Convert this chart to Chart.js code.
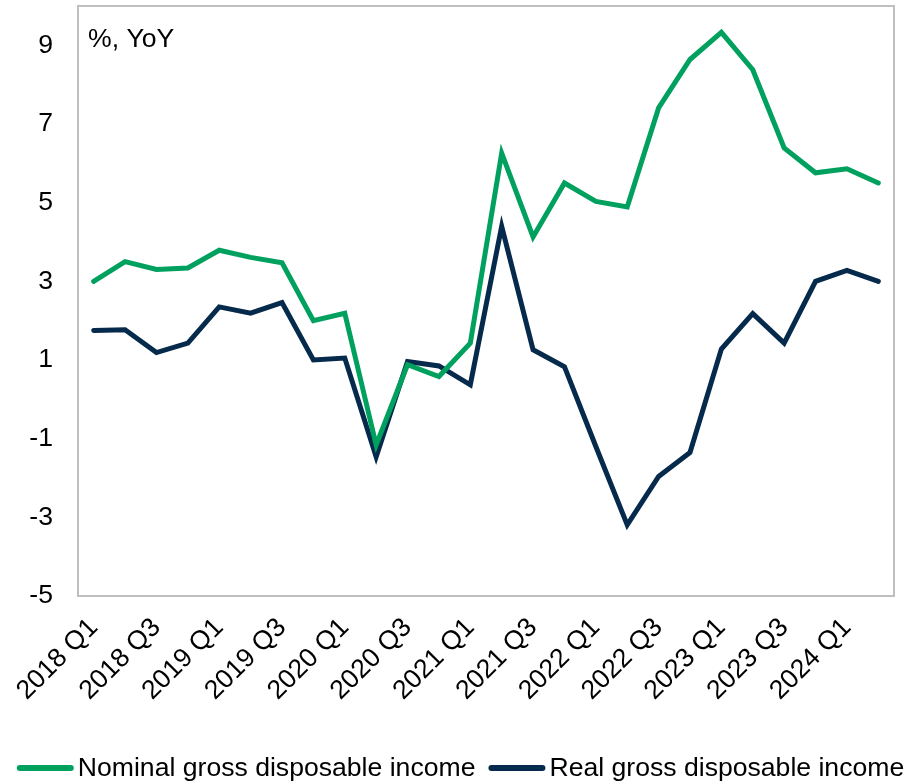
<!DOCTYPE html>
<html>
<head>
<meta charset="utf-8">
<script src="https://cdn.jsdelivr.net/npm/chart.js@4/dist/chart.umd.min.js"></script>
<style>
  html, body { margin: 0; padding: 0; background: #fff; }
  #wrap { width: 922px; height: 784px; }
</style>
</head>
<body>
<div id="wrap"><canvas id="chart"></canvas></div>
<script>
// quarterly YoY growth, %
const quarters = [
  "2018 Q1", "2018 Q2", "2018 Q3", "2018 Q4",
  "2019 Q1", "2019 Q2", "2019 Q3", "2019 Q4",
  "2020 Q1", "2020 Q2", "2020 Q3", "2020 Q4",
  "2021 Q1", "2021 Q2", "2021 Q3", "2021 Q4",
  "2022 Q1", "2022 Q2", "2022 Q3", "2022 Q4",
  "2023 Q1", "2023 Q2", "2023 Q3", "2023 Q4",
  "2024 Q1", "2024 Q2"
];

const nominal = [
  3.0, 3.5, 3.3, 3.34, 3.79, 3.61, 3.47, 2.0,
  2.19, -1.16, 0.88, 0.58, 1.43, 6.26, 4.13, 5.5,
  5.03, 4.89, 7.41, 8.64, 9.33, 8.38, 6.39, 5.76,
  5.86, 5.5
];

const real = [
  1.75, 1.77, 1.19, 1.43, 2.35, 2.19, 2.46, 1.0,
  1.05, -1.46, 0.96, 0.85, 0.37, 4.4, 1.26, 0.83,
  -1.2, -3.19, -1.96, -1.35, 1.28, 2.18, 1.43, 3.0,
  3.28, 3.0
];

const yTicks = [-5, -3, -1, 1, 3, 5, 7, 9];

const FONT = "'Liberation Sans', Arial, sans-serif";
const FSIZE = 26.6;
const GREEN = "#00A05E";
const NAVY = "#062A4C";
const FRAME = "#BFBFBF";

// grey box round the plot area plus the unit note in its corner
const frame = {
  id: "frame",
  afterDraw(chart) {
    const { ctx, chartArea: a } = chart;
    ctx.save();
    ctx.strokeStyle = FRAME;
    ctx.lineWidth = 2;
    ctx.strokeRect(a.left, a.top, a.right - a.left, a.bottom - a.top);
    ctx.fillStyle = "#000";
    ctx.font = FSIZE + "px " + FONT;
    ctx.textBaseline = "alphabetic";
    ctx.fillText("%, YoY", a.left + 10, a.top + 41);
    ctx.restore();
  }
};

// one-row legend under the axis labels, line sample right next to its text
const lineLegend = {
  id: "lineLegend",
  afterDraw(chart) {
    const { ctx } = chart;
    const y = 768, sample = 55, gap = 5, between = 14;
    ctx.save();
    ctx.font = FSIZE + "px " + FONT;
    ctx.textBaseline = "middle";
    const items = chart.data.datasets.map(ds => ({
      text: ds.label,
      color: ds.borderColor,
      w: ctx.measureText(ds.label).width
    }));
    const total = items.reduce((s, it) => s + sample + gap + it.w, 0) + between * (items.length - 1);
    let x = (chart.width - total) / 2;
    items.forEach(it => {
      ctx.strokeStyle = it.color;
      ctx.lineWidth = 6;
      ctx.lineCap = "round";
      ctx.beginPath();
      ctx.moveTo(x + 2, y);
      ctx.lineTo(x + sample - 2, y);
      ctx.stroke();
      ctx.fillStyle = "#000";
      ctx.fillText(it.text, x + sample + gap, y + 1);
      x += sample + gap + it.w + between;
    });
    ctx.restore();
  }
};

new Chart(document.getElementById("chart"), {
  type: "line",
  data: {
    labels: quarters,
    datasets: [
      {
        label: "Nominal gross disposable income",
        data: nominal,
        borderColor: GREEN,
        borderWidth: 5,
        borderCapStyle: "round",
        pointRadius: 0,
        tension: 0
      },
      {
        label: "Real gross disposable income",
        data: real,
        borderColor: NAVY,
        borderWidth: 5,
        borderCapStyle: "round",
        pointRadius: 0,
        tension: 0
      }
    ]
  },
  options: {
    responsive: true,
    maintainAspectRatio: false,
    animation: false,
    layout: { padding: { left: 30, right: 28, top: 6, bottom: 78 } },
    plugins: {
      legend: { display: false },
      tooltip: { enabled: false }
    },
    scales: {
      x: {
        offset: true,
        grid: { display: false, drawTicks: false },
        border: { display: false },
        afterFit: scale => {
          scale.height = 110;
          scale.paddingLeft = 0;
          scale.paddingRight = 0;
        },
        ticks: {
          autoSkip: false,
          minRotation: 45,
          maxRotation: 45,
          padding: 16,
          color: "#000",
          font: { family: FONT, size: FSIZE },
          callback: function (value, index) {
            return index % 2 === 0 ? this.getLabelForValue(value) : "";
          }
        }
      },
      y: {
        min: -5,
        max: 10,
        grid: { display: false, drawTicks: false },
        border: { display: false },
        afterBuildTicks: scale => {
          scale.ticks = yTicks.map(v => ({ value: v }));
        },
        afterFit: scale => {
          scale.width = 48;
          scale.paddingTop = 0;
          scale.paddingBottom = 0;
        },
        ticks: {
          padding: 25,
          color: "#000",
          font: { family: FONT, size: FSIZE }
        }
      }
    }
  },
  plugins: [frame, lineLegend]
});
</script>
</body>
</html>
